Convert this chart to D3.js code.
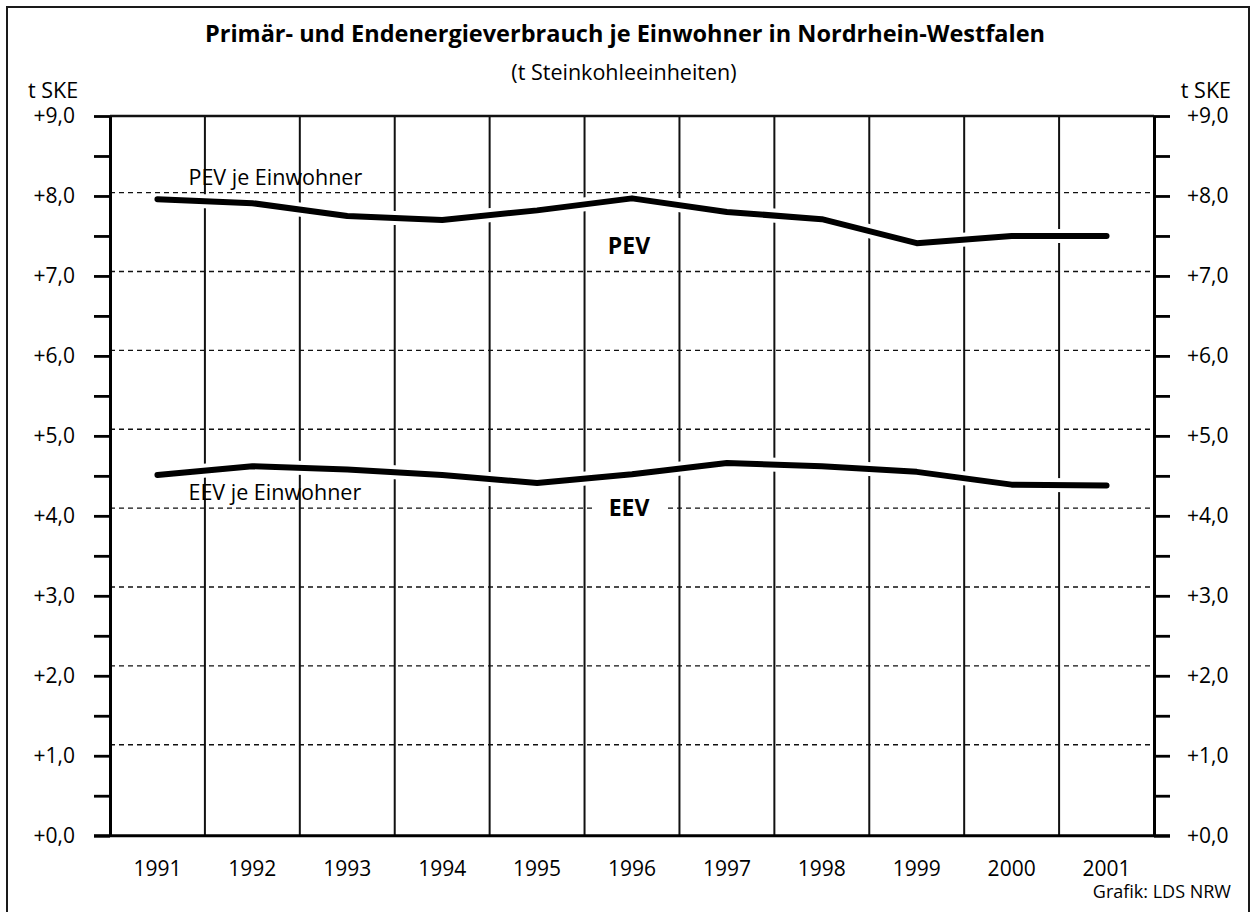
<!DOCTYPE html>
<html>
<head>
<meta charset="utf-8">
<title>Primär- und Endenergieverbrauch je Einwohner in Nordrhein-Westfalen</title>
<script src="https://cdn.jsdelivr.net/npm/d3@7"></script>
<style>
  body { margin: 0; background: #fff; }
  svg { display: block; font-family: 'Open Sans', 'Noto Sans', sans-serif; }
</style>
</head>
<body>
<div id="chart"></div>
<script>
// Jahre (Kategorien)
const years = ['1991', '1992', '1993', '1994', '1995', '1996', '1997', '1998', '1999', '2000', '2001'];

// t SKE je Einwohner
const pevValues = [7.96, 7.91, 7.75, 7.70, 7.82, 7.97, 7.80, 7.71, 7.41, 7.50, 7.50];
const eevValues = [4.51, 4.62, 4.58, 4.51, 4.41, 4.52, 4.66, 4.62, 4.55, 4.39, 4.38];

// Achsenbeschriftung
const yTicks = [0, 0.5, 1, 1.5, 2, 2.5, 3, 3.5, 4, 4.5, 5, 5.5, 6, 6.5, 7, 7.5, 8, 8.5, 9];
const gridValues = [1, 2, 3, 4, 5, 6, 7, 8];

const title = 'Primär- und Endenergieverbrauch je Einwohner in Nordrhein-Westfalen';
const subtitle = '(t Steinkohleeinheiten)';
const unit = 't SKE';
const source = 'Grafik: LDS NRW';

const width = 1252;
const height = 912;

const svg = d3.select('#chart').append('svg')
  .attr('width', width)
  .attr('height', height);

// Rahmen (unten ausserhalb des Bildes)
svg.append('rect')
  .attr('x', 7).attr('y', 7)
  .attr('width', 1242).attr('height', 930)
  .attr('fill', '#fff')
  .attr('stroke', '#1a1a1a')
  .attr('stroke-width', 2);

const plot = { left: 110, right: 1154, top: 116, bottom: 835.7 };

const x = d3.scaleBand().domain(years).range([plot.left, plot.right]);
const y = d3.scaleLinear().domain([0, 9]).range([plot.bottom, plot.top]);
// die gestrichelten Linien sitzen im Original etwas versetzt zu den Ticks
const yGrid = d3.scaleLinear().domain([0, 9]).range([823.6, 113.8]);

// vertikale Trennlinien zwischen den Jahren
svg.append('g')
  .selectAll('line')
  .data(years.slice(1))
  .join('line')
  .attr('x1', d => x(d)).attr('x2', d => x(d))
  .attr('y1', plot.top).attr('y2', plot.bottom)
  .attr('stroke', '#111')
  .attr('stroke-width', 2);

const line = d3.line()
  .x((d, i) => x(years[i]) + x.bandwidth() / 2)
  .y(d => y(d));

// weisser Rand um die Kurven
const series = [pevValues, eevValues];
svg.append('g')
  .selectAll('path')
  .data(series)
  .join('path')
  .attr('d', line)
  .attr('fill', 'none')
  .attr('stroke', '#fff')
  .attr('stroke-width', 14);

// gestrichelte Hilfslinien
svg.append('g')
  .selectAll('line')
  .data(gridValues)
  .join('line')
  .attr('x1', plot.left).attr('x2', plot.right)
  .attr('y1', d => yGrid(d)).attr('y2', d => yGrid(d))
  .attr('stroke', '#111')
  .attr('stroke-width', 1.4)
  .attr('stroke-dasharray', '5,4');

// obere Linie bei 9,0
svg.append('line')
  .attr('x1', plot.left).attr('x2', plot.right)
  .attr('y1', y(9)).attr('y2', y(9))
  .attr('stroke', '#111')
  .attr('stroke-width', 2.5);

// Kurven
svg.append('g')
  .selectAll('path')
  .data(series)
  .join('path')
  .attr('d', line)
  .attr('fill', 'none')
  .attr('stroke', '#000')
  .attr('stroke-width', 6)
  .attr('stroke-linejoin', 'round')
  .attr('stroke-linecap', 'round');

const fmt = d => Number.isInteger(d) ? '+' + d.toFixed(1).replace('.', ',') : '';

function styleAxis(g) {
  g.attr('font-family', null).attr('font-size', null);
  g.selectAll('.domain').attr('stroke', '#000').attr('stroke-width', 3);
  g.selectAll('.tick line').attr('stroke', '#000').attr('stroke-width', 2.8);
  g.selectAll('.tick text').attr('fill', '#000').style('font-size', '21px');
}

svg.append('g')
  .attr('transform', `translate(${plot.left},0)`)
  .call(d3.axisLeft(y).tickValues(yTicks).tickFormat(fmt).tickSize(16).tickSizeOuter(0).tickPadding(19))
  .call(styleAxis);

svg.append('g')
  .attr('transform', `translate(${plot.right},0)`)
  .call(d3.axisRight(y).tickValues(yTicks).tickFormat(fmt).tickSize(16).tickSizeOuter(0).tickPadding(17))
  .call(styleAxis);

svg.append('g')
  .attr('transform', `translate(0,${plot.bottom})`)
  .call(d3.axisBottom(x).tickSize(0).tickPadding(25))
  .call(styleAxis)
  .call(g => g.select('.domain').attr('d', `M${plot.left - 16},0H${plot.right + 16}`));

// Titel
svg.append('text')
  .attr('x', 625).attr('y', 42)
  .attr('text-anchor', 'middle')
  .style('font-size', '23.5px')
  .style('font-weight', 'bold')
  .text(title);

svg.append('text')
  .attr('x', 624).attr('y', 80)
  .attr('text-anchor', 'middle')
  .style('font-size', '21.5px')
  .text(subtitle);

svg.append('text')
  .attr('x', 28).attr('y', 98)
  .style('font-size', '21.5px')
  .text(unit);

svg.append('text')
  .attr('x', 1231).attr('y', 98)
  .attr('text-anchor', 'end')
  .style('font-size', '21.5px')
  .text(unit);

svg.append('text')
  .attr('x', 1231).attr('y', 898)
  .attr('text-anchor', 'end')
  .style('font-size', '18px')
  .text(source);

// Kurvenbeschriftungen
const cx = yr => x(yr) + x.bandwidth() / 2;

svg.append('text')
  .attr('x', cx('1991') + 31).attr('y', y(8.0) - 11)
  .style('font-size', '21.5px')
  .text('PEV je Einwohner');

svg.append('text')
  .attr('x', cx('1991') + 31).attr('y', y(4.0) - 16)
  .style('font-size', '21.5px')
  .text('EEV je Einwohner');

svg.append('text')
  .attr('x', cx('1996') - 3).attr('y', y(7.38) + 8)
  .attr('text-anchor', 'middle')
  .style('font-size', '23px')
  .style('font-weight', 'bold')
  .text('PEV');

const eevLabel = svg.append('g');
eevLabel.append('rect')
  .attr('x', cx('1996') - 38).attr('y', y(4.10) - 12)
  .attr('width', 70).attr('height', 22)
  .attr('fill', '#fff');
eevLabel.append('text')
  .attr('x', cx('1996') - 3).attr('y', y(4.10) + 8)
  .attr('text-anchor', 'middle')
  .style('font-size', '23px')
  .style('font-weight', 'bold')
  .text('EEV');
</script>
</body>
</html>
